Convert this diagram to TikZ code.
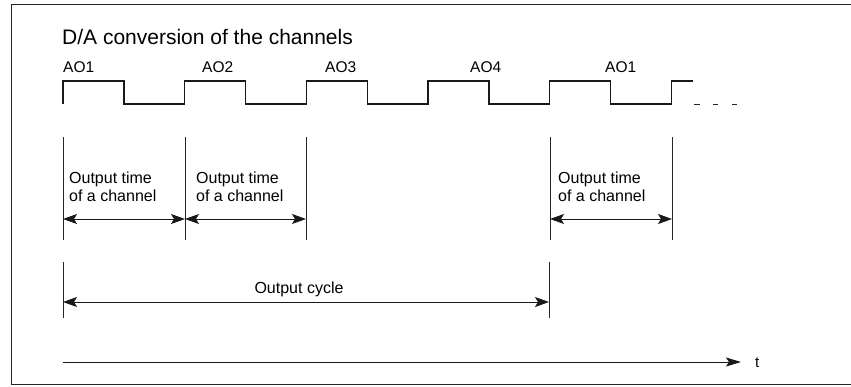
\documentclass[tikz,border=0pt]{standalone}
\usepackage{fontspec}
\setmainfont{Liberation Sans}
\usetikzlibrary{arrows.meta}
\begin{document}
\begin{tikzpicture}[x=1pt,y=-1pt,
  frameline/.style={line width=1.1pt, black!85},
  wave/.style={line width=1.3pt, black!90},
  tick/.style={line width=0.9pt, black!85},
  dimarrow/.style={line width=0.9pt, black!90, {Stealth[length=14pt,width=10pt,inset=3pt]}-{Stealth[length=14pt,width=10pt,inset=3pt]}},
  axisarrow/.style={line width=0.9pt, black!90, -{Stealth[length=15pt,width=9pt,inset=3pt]}},
  titlelbl/.style={inner sep=0pt, font=\fontsize{21}{24}\selectfont},
  aolbl/.style={inner sep=0pt, anchor=base west, font=\fontsize{15.5}{18}\selectfont},
  txtlbl/.style={inner sep=0pt, align=left, anchor=north west, font=\fontsize{16}{18}\selectfont}
]
\useasboundingbox (0,0) rectangle (851,386);
% frame
\draw[frameline] (851,4.5) -- (11.5,4.5) -- (11.5,384.5) -- (851,384.5);
% title
\node[titlelbl, anchor=base west] (title) at (62,44) {D/A conversion of the channels};
% channel labels
\node[aolbl] (ao1) at (63,72) {AO1};
\node[aolbl] (ao2) at (202,72) {AO2};
\node[aolbl] (ao3) at (325,72) {AO3};
\node[aolbl] (ao4) at (470,72) {AO4};
\node[aolbl] (ao1b) at (605,72) {AO1};
% waveform
\draw[wave] (63,104) -- (63,81) -- (123.85,81) -- (123.85,104) -- (184.7,104) -- (184.7,81)
  -- (245.55,81) -- (245.55,104) -- (306.4,104) -- (306.4,81) -- (367.25,81) -- (367.25,104)
  -- (428.1,104) -- (428.1,81) -- (488.95,81) -- (488.95,104) -- (549.8,104) -- (549.8,81)
  -- (610.65,81) -- (610.65,104) -- (671.5,104) -- (671.5,81) -- (692.5,81);
\draw[tick] (694,104) -- (700,104) (713,104) -- (718,104) (732,104) -- (737,104);
% output time ticks
\foreach \n/\x in {a/63,b/185,c/306,d/550,e/672}{
  \coordinate (top\n) at (\x,137);
  \coordinate (bot\n) at (\x,240);
  \coordinate (m\n) at (\x,219);
  \draw[tick] (top\n) -- (bot\n);
}
\draw[dimarrow] (ma) -- (mb);
\draw[dimarrow] (mb) -- (mc);
\draw[dimarrow] (md) -- (me);
\node[txtlbl] (ot1) at (69,171.5) {Output time\\of a channel};
\node[txtlbl] (ot2) at (196,171.5) {Output time\\of a channel};
\node[txtlbl] (ot3) at (558,171.5) {Output time\\of a channel};
% output cycle
\coordinate (cta) at (63,262);
\coordinate (cba) at (63,318);
\coordinate (ctb) at (549,262);
\coordinate (cbb) at (549,318);
\coordinate (cma) at (63,302);
\coordinate (cmb) at (549,302);
\draw[tick] (cta) -- (cba);
\draw[tick] (ctb) -- (cbb);
\draw[dimarrow] (cma) -- (cmb);
\node[inner sep=0pt, anchor=base, font=\fontsize{16}{18}\selectfont] (cyc) at (299,293) {Output cycle};
% time axis
\coordinate (ax0) at (63,362);
\coordinate (ax1) at (741,362);
\draw[axisarrow] (ax0) -- (ax1);
\node[inner sep=0pt, anchor=base west, font=\fontsize{15}{18}\selectfont] (tlbl) at (755,367) {t};
\end{tikzpicture}
\end{document}
